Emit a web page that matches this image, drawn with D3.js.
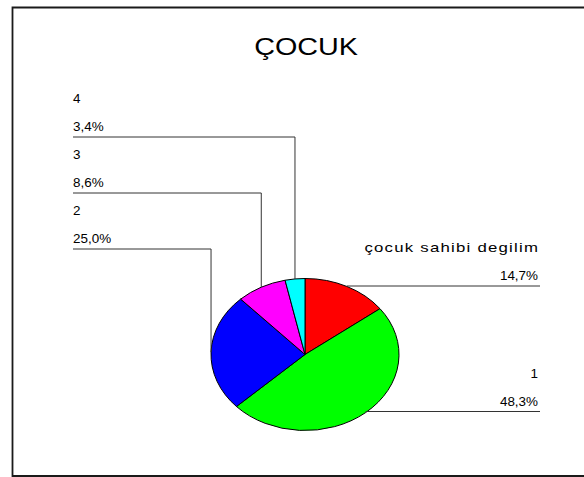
<!DOCTYPE html>
<html>
<head>
<meta charset="utf-8">
<script src="https://cdn.jsdelivr.net/npm/d3@7"></script>
<style>
  html, body { margin: 0; padding: 0; background: #fff; }
  svg { display: block; }
  text { font-family: "Liberation Sans", Arial, sans-serif; fill: #000; }
</style>
</head>
<body>
<script>
// Number of children – share of respondents
const categories = ["çocuk sahibi degilim", "1", "2", "3", "4"];
const values = [14.7, 48.3, 25.0, 8.6, 3.4];
const colors = ["#ff0000", "#00ff00", "#0000ff", "#ff00ff", "#00ffff"];
const valueLabels = values.map(v => v.toFixed(1).replace(".", ",") + "%");

const W = 584, H = 477;
const svg = d3.select("body").append("svg").attr("width", W).attr("height", H);

// outer frame
svg.append("path")
  .attr("d", `M${W + 5},7.5 H12.5 V476 H${W + 5}`)
  .attr("fill", "none").attr("stroke", "#1a1a1a").attr("stroke-width", 1.8);

const cx = 305, cy = 354.5, r = 76, rx = 94;

svg.append("text")
  .attr("transform", `translate(306,55) scale(1.25,1)`)
  .attr("text-anchor", "middle")
  .attr("font-size", 23)
  .text("ÇOCUK");

const pie = d3.pie().sort(null).value(d => d)(values);
const arc = d3.arc().innerRadius(0).outerRadius(r);

const g = svg.append("g").attr("transform", `translate(${cx},${cy}) scale(${rx / r},1)`);
g.selectAll("path").data(pie).join("path")
  .attr("d", arc)
  .attr("fill", (d, i) => colors[i])
  .attr("stroke", "#000")
  .attr("stroke-width", 1)
  .attr("vector-effect", "non-scaling-stroke");

// leader lines and labels
const leftX = 73, rightX = 540;
const sx = 1.12;
// y of each horizontal leader segment
const leaderY = [286, 411.5, 249, 193, 137];

pie.forEach((d, i) => {
  const a = (d.startAngle + d.endAngle) / 2;
  const px = cx + rx * Math.sin(a);
  const py = cy - r * Math.cos(a);
  const ly = leaderY[i];
  const right = px > cx;
  const path = right
    ? `M${px},${ly} H${rightX}`
    : `M${px},${py} V${ly} H${leftX}`;
  svg.append("path").attr("d", path)
    .attr("fill", "none").attr("stroke", "#333").attr("stroke-width", 1);

  const tx = right ? rightX - 2 : leftX;
  const anchor = right ? "end" : "start";
  const longName = categories[i].length > 4;
  const nsx = longName ? 1.4 : sx;
  const name = svg.append("text")
    .attr("transform", `translate(${tx},${ly - 34}) scale(${nsx},1)`)
    .attr("text-anchor", anchor).attr("font-size", 12)
    .text(categories[i]);
  // long category names are set wider, with light tracking
  if (longName) {
    name.attr("textLength", 124).attr("lengthAdjust", "spacing");
  }
  svg.append("text")
    .attr("transform", `translate(${tx},${ly - 6}) scale(${sx},1)`)
    .attr("text-anchor", anchor).attr("font-size", 12)
    .text(valueLabels[i]);
});
</script>
</body>
</html>
